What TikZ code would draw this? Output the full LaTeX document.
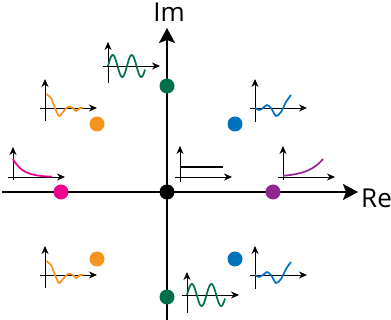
\documentclass[tikz,border=0pt]{standalone}
\usepackage{fontspec}
\setmainfont{Open Sans}
\usepackage{tikz}
\usetikzlibrary{arrows.meta,positioning}

\definecolor{cOrange}{RGB}{247,148,30}
\definecolor{cVert}{RGB}{0,112,74}
\definecolor{cBleu}{RGB}{0,114,188}
\definecolor{cRose}{RGB}{236,0,140}
\definecolor{cViolet}{RGB}{146,39,143}

% petits axes d'une reponse temporelle (dans un scope decale)
\newcommand{\miniaxes}[2]{%
  \coordinate (mB) at (0,#1);
  \coordinate (mH) at (0,-#2);
  \coordinate (mG) at (-5,0);
  \coordinate (mD) at (52,0);
  \draw[petitaxe] (mB) -- (mH);
  \draw[petitaxe] (mG) -- (mD);
}

\begin{document}
\begin{tikzpicture}[x=1pt,y=-1pt,
    pole/.style={circle,fill=#1,inner sep=0pt,minimum size=15pt},
    axe/.style={line width=2pt,-{Stealth[length=15pt,width=16pt,inset=3pt]}},
    petitaxe/.style={line width=0.9pt,-{Stealth[length=8pt,width=7pt]}},
    courbe/.style={line width=1.7pt,#1},
    etiquette/.style={font=\fontsize{26}{30}\selectfont}]
  \useasboundingbox (0,0) rectangle (391,320);

  % Axes du plan complexe
  \coordinate (reG) at (2,192);
  \coordinate (reD) at (358,192);
  \coordinate (imB) at (167,320);
  \coordinate (imH) at (167,28);
  \draw[axe] (reG) -- (reD);
  \draw[axe] (imB) -- (imH);
  \node[etiquette,anchor=base west,inner sep=0pt] (lblRe) at (361,208) {Re};
  \node[etiquette,anchor=base,inner sep=0pt] (lblIm) at (169,22) {Im};

  % Poles
  \node[pole=black]   (pO)  at (167,192) {};
  \node[pole=cRose]   (pR)  at (61,192) {};
  \node[pole=cViolet] (pV)  at (273,192) {};
  \node[pole=cVert]   (pVh) at (167,86) {};
  \node[pole=cVert]   (pVb) at (167,297) {};
  \node[pole=cOrange] (pOh) at (97,124) {};
  \node[pole=cOrange] (pOb) at (97,259) {};
  \node[pole=cBleu]   (pBh) at (235,124) {};
  \node[pole=cBleu]   (pBb) at (235,259) {};

  % Reponses : oscillation amortie
  \foreach \y in {108,275}{
    \begin{scope}[shift={(45,\y)}]
      \miniaxes{13}{29}
      \draw[courbe=cOrange] plot[smooth] coordinates
        {(1,-14) (6,-10) (10,0) (14,8) (18,4) (23,-1) (28,0) (31,3) (35,0) (38,0)};
    \end{scope}
  }

  % Reponses : oscillation divergente
  \foreach \y in {108,275}{
    \begin{scope}[shift={(255,\y)}]
      \miniaxes{14}{29}
      \draw[courbe=cBleu] plot[smooth] coordinates
        {(0,0) (4,2) (8,0) (12,-3) (16,0) (21,8) (26,4) (31,-6) (36,-13)};
    \end{scope}
  }

  % Reponses : oscillation entretenue
  \begin{scope}[shift={(108,66)}]
    \miniaxes{17}{24}
    \draw[courbe=cVert] plot[domain=0:37,samples=60] (\x,{-11*sin(360*\x/19)});
  \end{scope}
  \begin{scope}[shift={(187,295)}]
    \miniaxes{18}{23}
    \draw[courbe=cVert] plot[domain=0:38,samples=60] (\x,{-11*sin(360*\x/19.5)});
  \end{scope}

  % Reponses : exponentielles et constante
  \begin{scope}[shift={(13,177)}]
    \miniaxes{3}{30}
    \draw[courbe=cRose] plot[domain=0:39,samples=40] (\x,{-18*exp(-\x/10)});
  \end{scope}
  \begin{scope}[shift={(180,177)}]
    \miniaxes{5}{31}
    \coordinate (cG) at (0,-10);
    \coordinate (cD) at (43,-10);
    \draw[courbe=black] (cG) -- (cD);
  \end{scope}
  \begin{scope}[shift={(283,177)}]
    \miniaxes{3}{31}
    \draw[courbe=cViolet] plot[domain=0:40,samples=40] (\x,{-18*exp((\x-40)/15)});
  \end{scope}
\end{tikzpicture}
\end{document}
